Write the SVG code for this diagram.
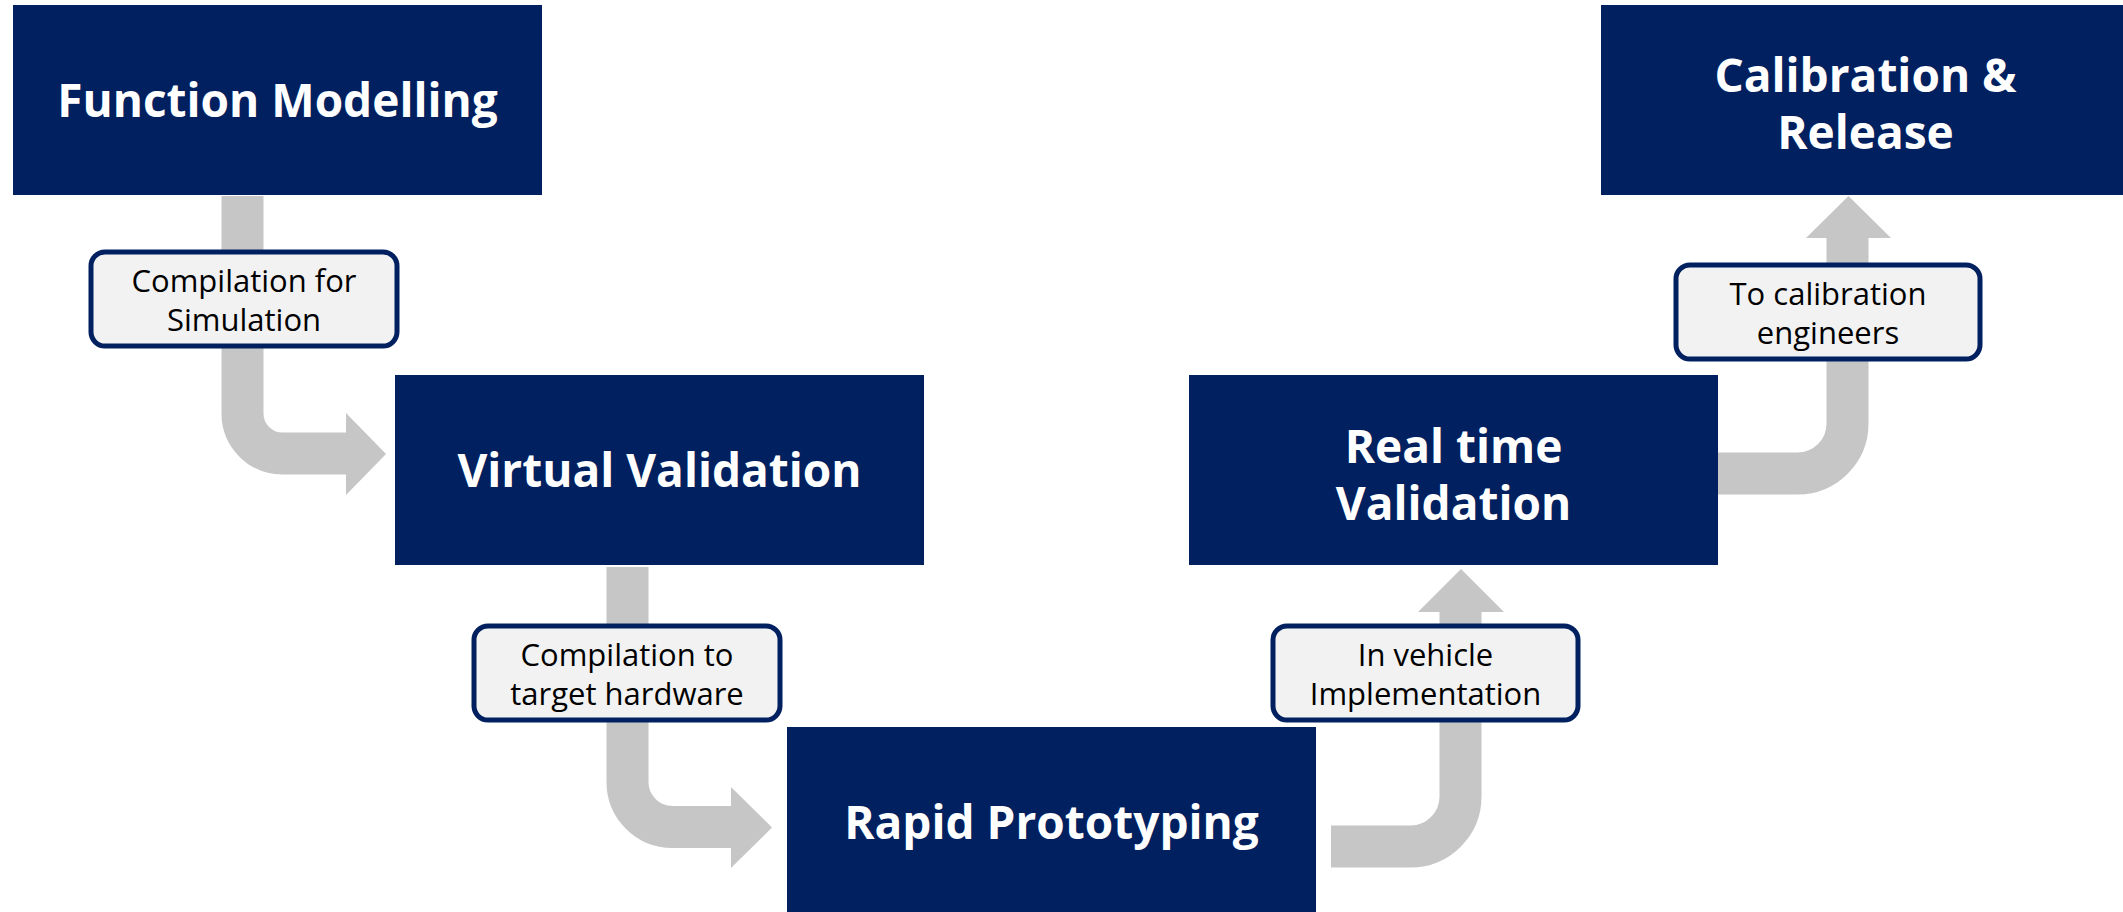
<svg xmlns="http://www.w3.org/2000/svg" width="2123" height="912" viewBox="0 0 2123 912">
  <style>
    .node rect { fill: #002060; }
    .node text { fill: #ffffff; font-family: "Open Sans", "Noto Sans", sans-serif; font-weight: bold; font-size: 46px; text-anchor: middle; }
    .shaft { fill: none; stroke: #c6c6c6; stroke-width: 42; stroke-linecap: butt; }
    .head { fill: #c6c6c6; }
    .label rect { fill: #f2f2f2; stroke: #002060; stroke-width: 5; }
    .label text { fill: #000000; font-family: "Open Sans", "Noto Sans", sans-serif; font-size: 31px; text-anchor: middle; }
  </style>

  <!-- bent arrows between the stages -->
  <g id="connectors">
    <path class="shaft" d="M242.5,196 V413.5 A40,40 0 0 0 282.5,453.5 H347"/>
    <polygon class="head" points="346,413 386,454 346,495"/>

    <path class="shaft" d="M627.5,567 V782 A45,45 0 0 0 672.5,827 H732"/>
    <polygon class="head" points="731,787 772,827.5 731,868"/>

    <path class="shaft" d="M1331,846.5 H1410.5 A50,50 0 0 0 1460.5,796.5 V611"/>
    <polygon class="head" points="1418,612 1461,569 1504,612"/>

    <path class="shaft" d="M1718,473.5 H1797.5 A50,50 0 0 0 1847.5,423.5 V237"/>
    <polygon class="head" points="1806,238 1848.5,196 1891,238"/>
  </g>

  <!-- stage boxes -->
  <g id="function-modelling" class="node">
    <rect x="13" y="5" width="529" height="190"/>
    <text x="277.5" y="117">Function Modelling</text>
  </g>
  <g id="virtual-validation" class="node">
    <rect x="395" y="375" width="529" height="190"/>
    <text x="659.5" y="487">Virtual Validation</text>
  </g>
  <g id="rapid-prototyping" class="node">
    <rect x="787" y="727" width="529" height="190"/>
    <text x="1051.5" y="839">Rapid Prototyping</text>
  </g>
  <g id="real-time-validation" class="node">
    <rect x="1189" y="375" width="529" height="190"/>
    <text x="1453.5" y="463">Real time</text>
    <text x="1453.5" y="520">Validation</text>
  </g>
  <g id="calibration-release" class="node">
    <rect x="1601" y="5" width="529" height="190"/>
    <text x="1865.5" y="92">Calibration &amp;</text>
    <text x="1865.5" y="149">Release</text>
  </g>

  <!-- transition labels -->
  <g id="label-simulation" class="label">
    <rect x="91" y="252" width="306" height="94" rx="14"/>
    <text x="244" y="292">Compilation for</text>
    <text x="244" y="331">Simulation</text>
  </g>
  <g id="label-target" class="label">
    <rect x="474" y="626" width="306" height="94" rx="14"/>
    <text x="627" y="666">Compilation to</text>
    <text x="627" y="705">target hardware</text>
  </g>
  <g id="label-vehicle" class="label">
    <rect x="1273" y="626" width="305" height="94" rx="14"/>
    <text x="1425.5" y="666">In vehicle</text>
    <text x="1425.5" y="705">Implementation</text>
  </g>
  <g id="label-calibration" class="label">
    <rect x="1676" y="265" width="304" height="94" rx="14"/>
    <text x="1828" y="305">To calibration</text>
    <text x="1828" y="344">engineers</text>
  </g>
</svg>
